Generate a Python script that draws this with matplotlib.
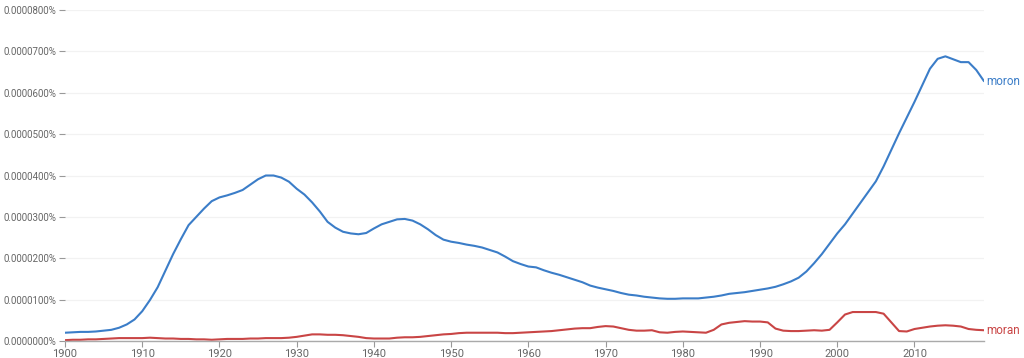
import matplotlib
matplotlib.use("Agg")
import matplotlib.pyplot as plt
from matplotlib.ticker import FuncFormatter

# years 1900..2019, values in units of 0.0000100 %
years = list(range(1900, 2020))

moron = [
    0.20, 0.21, 0.22, 0.22, 0.23, 0.25, 0.27, 0.32, 0.40, 0.52,
    0.72, 0.99, 1.30, 1.70, 2.10, 2.46, 2.80, 3.00, 3.20, 3.38,
    3.47, 3.52, 3.58, 3.65, 3.78, 3.91, 4.00, 4.00, 3.95, 3.85,
    3.68, 3.54, 3.35, 3.13, 2.88, 2.74, 2.64, 2.60, 2.58, 2.61,
    2.72, 2.82, 2.88, 2.94, 2.95, 2.91, 2.82, 2.70, 2.56, 2.45,
    2.40, 2.37, 2.33, 2.30, 2.26, 2.20, 2.14, 2.04, 1.93, 1.86,
    1.80, 1.78, 1.71, 1.65, 1.60, 1.54, 1.48, 1.42, 1.34, 1.29,
    1.25, 1.21, 1.16, 1.12, 1.10, 1.07, 1.05, 1.03, 1.02, 1.02,
    1.03, 1.03, 1.03, 1.05, 1.07, 1.10, 1.14, 1.16, 1.18, 1.21,
    1.24, 1.27, 1.31, 1.37, 1.44, 1.53, 1.68, 1.88, 2.10, 2.35,
    2.60, 2.82, 3.08, 3.34, 3.60, 3.86, 4.22, 4.62, 5.02, 5.40,
    5.78, 6.18, 6.58, 6.82, 6.88, 6.81, 6.74, 6.74, 6.55, 6.28,
]

moran = [
    0.02, 0.03, 0.03, 0.04, 0.04, 0.05, 0.06, 0.07, 0.07, 0.07,
    0.07, 0.08, 0.07, 0.06, 0.06, 0.05, 0.05, 0.04, 0.04, 0.03,
    0.04, 0.05, 0.05, 0.05, 0.06, 0.06, 0.07, 0.07, 0.07, 0.08,
    0.10, 0.13, 0.16, 0.16, 0.15, 0.15, 0.14, 0.12, 0.10, 0.07,
    0.06, 0.06, 0.06, 0.08, 0.09, 0.09, 0.10, 0.12, 0.14, 0.16,
    0.17, 0.19, 0.20, 0.20, 0.20, 0.20, 0.20, 0.19, 0.19, 0.20,
    0.21, 0.22, 0.23, 0.24, 0.26, 0.28, 0.30, 0.31, 0.31, 0.34,
    0.36, 0.35, 0.31, 0.27, 0.25, 0.25, 0.26, 0.21, 0.20, 0.22,
    0.23, 0.22, 0.21, 0.20, 0.27, 0.40, 0.44, 0.46, 0.48, 0.47,
    0.47, 0.45, 0.30, 0.25, 0.24, 0.24, 0.25, 0.26, 0.25, 0.27,
    0.45, 0.64, 0.70, 0.70, 0.70, 0.70, 0.66, 0.45, 0.24, 0.23,
    0.29, 0.32, 0.35, 0.37, 0.38, 0.37, 0.35, 0.29, 0.27, 0.26,
]

series = [("moron", moron, "#3b7dc8"), ("moran", moran, "#c94545")]
y_ticks = [0, 1, 2, 3, 4, 5, 6, 7, 8]
x_ticks = list(range(1900, 2020, 10))

plt.rcParams['font.family'] = ['Roboto', 'DejaVu Sans']

fig = plt.figure(figsize=(10.24, 3.58), dpi=100)
ax = fig.add_axes([65 / 1024, 1 - 341 / 358, (984 - 65) / 1024, 331 / 358])

for name, vals, color in series:
    ax.plot(years, vals, color=color, lw=1.5, solid_capstyle='round',
            solid_joinstyle='round')
    ax.text(years[-1] + 0.35, vals[-1], name, color=color, fontsize=8.5,
            va='center', ha='left')

ax.set_xlim(1900, 2019)
ax.set_ylim(0, 8)
ax.set_yticks(y_ticks)
ax.set_xticks(x_ticks)
ax.yaxis.set_major_formatter(FuncFormatter(lambda v, p: f"{v * 1e-5:.7f}%"))

ax.grid(axis='y', color='#f2f2f2', lw=0.9)
ax.set_axisbelow(True)
for s in ['top', 'right', 'left']:
    ax.spines[s].set_visible(False)
ax.spines['bottom'].set_color('#aaaaaa')
ax.spines['bottom'].set_linewidth(1.0)

ax.tick_params(axis='y', length=4, width=0.8, color='#999999',
               labelcolor='#666666', labelsize=7, pad=2)
ax.tick_params(axis='x', length=4, width=0.8, color='#999999',
               labelcolor='#666666', labelsize=8, pad=2)

fig.savefig("out.png", dpi=100)
